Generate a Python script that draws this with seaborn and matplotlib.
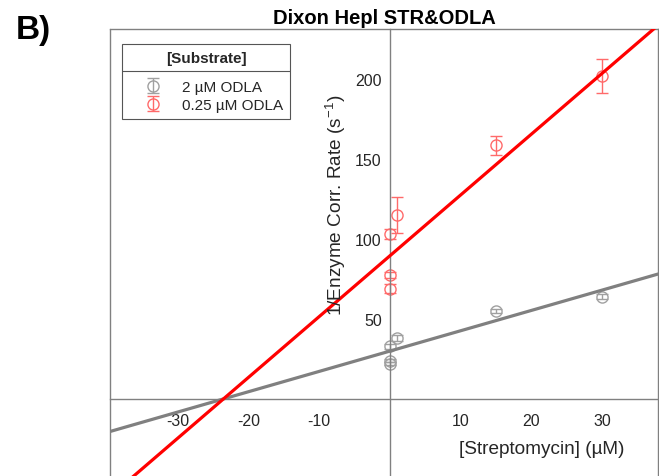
import matplotlib
matplotlib.use("Agg")
import matplotlib.pyplot as plt
from matplotlib.lines import Line2D
import seaborn as sns

# 1/enzyme corrected rate (s^-1) vs streptomycin (uM)
strep_2 = [0, 0, 0, 1, 15, 30]
rate_2 = [33.0, 24.0, 22.0, 38.0, 55.0, 64.0]
err_2 = [1.5, 1.0, 1.0, 2.0, 1.5, 1.5]

strep_025 = [0, 0, 0, 1, 15, 30]
rate_025 = [103.0, 77.5, 69.0, 115.0, 158.5, 202.0]
err_025 = [3.0, 2.0, 3.0, 11.5, 6.0, 10.5]

# linear fits (common x-intercept near -23.6 uM)
fit_slope = [1.27, 3.80]
fit_icpt = [30.0, 89.6]

series = ["2 µM ODLA", "0.25 µM ODLA"]
line_colors = ["#808080", "#ff0000"]
point_colors = ["#a0a0a0", "#ff6a6a"]

xticks = [-30, -20, -10, 10, 20, 30]
yticks = [50, 100, 150, 200]
xlim = (-39.6, 37.9)
ylim = (-48.1, 231.3)

sns.set_theme(style="white")
plt.rcParams['font.family'] = ['Liberation Sans', 'DejaVu Sans']
plt.rcParams['axes.unicode_minus'] = False

fig = plt.figure(figsize=(6.59, 4.77), dpi=100)
ax = fig.add_axes([110 / 659, 0, 548 / 659, 447 / 477])

xs = [strep_2, strep_025]
ys = [rate_2, rate_025]
es = [err_2, err_025]
handles = []
for i in range(2):
    h = ax.errorbar(xs[i], ys[i], yerr=es[i], fmt='o', mfc='none',
                    mec=point_colors[i], ecolor=point_colors[i], ms=8,
                    mew=1.0, elinewidth=1.0, capsize=4, capthick=1.0,
                    label=series[i], zorder=2)
    handles.append(h)
    fx = list(xlim)
    fy = [fit_icpt[i] + fit_slope[i] * v for v in fx]
    sns.lineplot(x=fx, y=fy, ax=ax, color=line_colors[i], lw=2.3,
                 zorder=3, legend=False)

ax.set_xlim(*xlim)
ax.set_ylim(*ylim)
ax.set_xticks(xticks)
ax.set_yticks(yticks)

# axes through the origin, box edge at top and left
ax.spines['left'].set_position(('data', 0))
ax.spines['bottom'].set_position(('data', 0))
for s in ax.spines.values():
    s.set_color('#808080')
    s.set_linewidth(1.0)
ax.plot([0, 0], [0, 1], transform=ax.transAxes, color='#808080', lw=1.0,
        clip_on=False)

ax.tick_params(direction='in', length=5, width=0.8, color='#808080',
               labelsize=11.5, labelcolor='#262626')
ax.tick_params(axis='x', pad=10)
ax.tick_params(axis='y', pad=6)

ax.text(21.4, -30.6, "[Streptomycin] (µM)", ha='center', va='center',
        fontsize=13.7, color='#262626')
ax.text(-7.6, 122, "1/Enzyme Corr. Rate (s$\\mathregular{^{-1}}$)",
        rotation=90, ha='center', va='center', fontsize=13.7,
        color='#262626')

fig.text(384 / 659, 1 - 18 / 477, "Dixon Hepl STR&ODLA", ha='center',
         va='center', fontsize=14.5, fontweight='bold', color='black')
fig.text(16 / 659, 1 - 30 / 477, "B)", ha='left', va='center',
         fontsize=24, fontweight='bold', color='black')

leg = fig.legend(handles=handles, labels=series, title="[Substrate]",
                 loc='upper left', bbox_to_anchor=(122 / 659, 1 - 45 / 477),
                 borderaxespad=0, frameon=True, fancybox=False,
                 edgecolor='#555555', framealpha=1, fontsize=11,
                 title_fontproperties={'weight': 'bold', 'size': 11},
                 handlelength=3.2, handletextpad=0.3, borderpad=0.45,
                 labelspacing=0.25)
leg.get_frame().set_linewidth(0.8)
leg._legend_box.sep = 11

# divider under the legend title
fig.canvas.draw()
r = fig.canvas.get_renderer()
fb = leg.get_frame().get_window_extent(r)
tb = leg.get_title().get_window_extent(r)
W, H = fig.bbox.width, fig.bbox.height
yline = (tb.y0 - 6) / H
fig.add_artist(Line2D([fb.x0 / W, fb.x1 / W], [yline, yline],
                      color='#555555', lw=0.8, zorder=10))

fig.savefig("out.png", dpi=100)
